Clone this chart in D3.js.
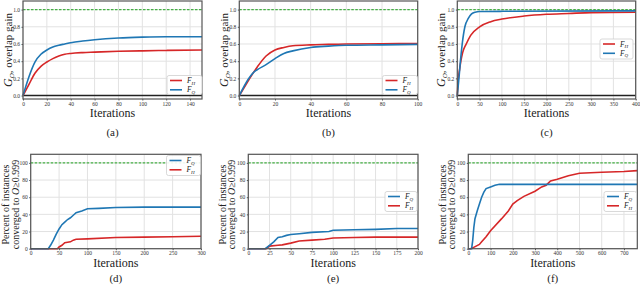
<!DOCTYPE html>
<html><head><meta charset="utf-8">
<script src="https://cdn.jsdelivr.net/npm/d3@7"></script>
<style>
html,body{margin:0;padding:0;background:#fff;}
svg{display:block;}
svg text{font-family:'Liberation Serif','DejaVu Serif',serif;}
</style></head>
<body><svg id="c" width="640" height="285"></svg>
<script>
// ---------- data ----------
const aX  = [0,5,10,15,20,25,30,35,40,50,60,80,100,120,150];
const aFH = [0,0.13,0.26,0.34,0.39,0.43,0.46,0.48,0.49,0.50,0.505,0.515,0.52,0.525,0.53];
const aFQ = [0,0.22,0.39,0.48,0.53,0.565,0.585,0.60,0.615,0.635,0.65,0.67,0.68,0.685,0.685];

const bX  = [0,5,8,10,15,20,25,30,40,50,60,80,100];
const bFH = [0,0.17,0.27,0.33,0.46,0.53,0.56,0.58,0.59,0.595,0.60,0.603,0.605];
const bFQ = [0,0.19,0.27,0.30,0.36,0.43,0.49,0.52,0.56,0.575,0.585,0.59,0.595];

const cXH = [0,2,5,8,12,20,30,50,75,100,150,200,250,300,400];
const cFH = [0,0.18,0.30,0.40,0.50,0.60,0.70,0.80,0.86,0.89,0.925,0.945,0.955,0.965,0.97];
const cXQ = [0,4,7,11,17,25,32,40,50,100,400];
const cFQ = [0,0.22,0.40,0.60,0.80,0.90,0.95,0.97,0.977,0.98,0.985];

const dXQ = [0,31,35,40,45,50,55,60,65,70,75,80,90,100,120,150,200,300];
const dFQ = [0,0,4,10,17,23,28,31,34,36,39,42,44,46.5,47,48,48.5,48.5];
const dXH = [0,47,50,55,60,65,70,75,80,100,150,200,250,300];
const dFH = [0,0,2,4,7,7.5,8,10,11,11.5,13,13.5,14,14.5];

const eXQ = [0,20,25,30,35,40,45,50,60,75,95,100,125,150,175,200];
const eFQ = [0,0,4,8,13,14,15.5,16.5,17.5,19,20,21.5,22,22.5,23.5,23.5];
const eXH = [0,21,25,35,40,50,60,75,90,100,125,150,200];
const eFH = [0,0,3,4,4.5,6.5,9,10,11,12.5,13,13.5,13.5];

const fXQ = [0,15,20,25,30,40,50,60,70,80,100,120,140,760];
const fFQ = [0,0,10,25,35,44,52,60,66,70,72,74,75,75];
const fXH = [0,10,20,50,60,80,100,150,180,200,220,250,300,330,350,370,400,450,500,600,700,760];
const fFH = [0,0,1,5,8,14,21,35,44,52,56,61,67,72,74,79,81,85,88,89,90,91];

const xTicksA = [0,20,40,60,80,100,120,140];
const xTicksB = [0,20,40,60,80,100];
const xTicksC = [0,50,100,150,200,250,300,350,400];
const xTicksD = [0,50,100,150,200,250,300];
const xTicksE = [0,25,50,75,100,125,150,175,200];
const xTicksF = [0,100,200,300,400,500,600,700];
const yTicksTop = [0,0.2,0.4,0.6,0.8,1.0];
const yTicksBot = [0,20,40,60,80,100];
const captions = ["(a)","(b)","(c)","(d)","(e)","(f)"];

const RED = "#d62728", BLUE = "#1f77b4", GREEN = "#44b044";

const svg = d3.select("#c");

function zip(xs, ys){ return xs.map((x,i)=>[x, ys[i]]); }

function panel(o){
  const g = svg.append("g");
  const x = d3.scaleLinear().domain(o.xd).range([o.l, o.r]);
  const y = d3.scaleLinear().domain(o.yd).range([o.b, o.t]);
  // grid
  g.append("g").selectAll("line").data(o.xt).join("line")
    .attr("x1", d=>x(d)).attr("x2", d=>x(d)).attr("y1", o.t).attr("y2", o.b)
    .attr("stroke", "#e2e2e2").attr("stroke-width", 1);
  g.append("g").selectAll("line").data(o.yt).join("line")
    .attr("y1", d=>y(d)).attr("y2", d=>y(d)).attr("x1", o.l).attr("x2", o.r)
    .attr("stroke", "#e2e2e2").attr("stroke-width", 1);
  // axes ticks via d3 axis
  const xa = d3.axisBottom(x).tickValues(o.xt).tickSize(1.5).tickPadding(1.2)
    .tickFormat(o.xf || d3.format("d"));
  const ya = d3.axisLeft(y).tickValues(o.yt).tickSize(1.5).tickPadding(1.5)
    .tickFormat(o.yf || d3.format("d"));
  const gx = g.append("g").attr("transform", `translate(0,${o.b})`).call(xa);
  const gy = g.append("g").attr("transform", `translate(${o.l},0)`).call(ya);
  [gx, gy].forEach(a => {
    a.attr("font-family", null);
    a.select(".domain").remove();
    a.selectAll("text").attr("font-size", 5.5).attr("fill", "#333");
    a.selectAll("line").attr("stroke", "#555");
  });
  // reference lines
  if (o.zero) g.append("line").attr("x1", o.l).attr("x2", o.r)
      .attr("y1", y(0)).attr("y2", y(0)).attr("stroke", "#222").attr("stroke-width", 1.6);
  g.append("line").attr("x1", o.l).attr("x2", o.r)
    .attr("y1", y(o.ref)).attr("y2", y(o.ref))
    .attr("stroke", GREEN).attr("stroke-width", 1.3).attr("stroke-dasharray", "2.5,1.5");
  // curves
  const line = d3.line().x(d=>x(d[0])).y(d=>y(d[1])).curve(o.curve);
  o.series.forEach(s => {
    g.append("path").datum(s.pts).attr("d", line).attr("fill", "none")
      .attr("stroke", s.c).attr("stroke-width", 1.6);
  });
  // frame
  g.append("rect").attr("x", o.l).attr("y", o.t).attr("width", o.r-o.l).attr("height", o.b-o.t)
    .attr("fill", "none").attr("stroke", "#555").attr("stroke-width", 1.2);
  // legend
  const L = o.leg;
  g.append("rect").attr("x", L.x).attr("y", L.y).attr("width", L.w).attr("height", L.h)
    .attr("rx", 2).attr("fill", "#fff").attr("fill-opacity", 0.9)
    .attr("stroke", "#cfcfcf").attr("stroke-width", 0.8);
  L.items.forEach((it, i) => {
    const yy = L.y + 5 + i*9.3;
    g.append("line").attr("x1", L.x+3).attr("x2", L.x+15).attr("y1", yy).attr("y2", yy)
      .attr("stroke", it.c).attr("stroke-width", 1.6);
    const t = g.append("text").attr("x", L.x+20).attr("y", yy+2.5).attr("font-size", 7.5)
      .attr("fill", "#222");
    t.append("tspan").attr("font-style", "italic").text("F");
    t.append("tspan").attr("font-style", "italic").attr("font-size", 5).attr("dy", 1.5).text(it.sub);
  });
  // x label
  g.append("text").attr("x", (o.l+o.r)/2).attr("y", o.b + o.xlOff).attr("text-anchor", "middle")
    .attr("font-size", 12).attr("fill", "#222").text("Iterations");
  // caption
  g.append("text").attr("x", (o.l+o.r)/2).attr("y", o.capY).attr("text-anchor", "middle")
    .attr("font-size", 11).attr("fill", "#222").text(o.cap);
  // y label
  if (o.top) {
    const t = g.append("text").attr("transform", `translate(${o.ylx},${(o.t+o.b)/2}) rotate(-90)`)
      .attr("text-anchor", "middle").attr("font-size", 11).attr("fill", "#222");
    t.append("tspan").attr("font-style", "italic").attr("font-size", 12).text("G");
    t.append("tspan").attr("font-style", "italic").attr("font-size", 7).attr("dy", 2).text("O");
    t.append("tspan").attr("dy", -2).text(", overlap gain");
  } else {
    const t1 = g.append("text").attr("transform", `translate(${o.ylx},${(o.t+o.b)/2+3}) rotate(-90)`)
      .attr("text-anchor", "middle").attr("font-size", 10).attr("fill", "#222");
    t1.text("Percent of instances");
    const t2 = g.append("text").attr("transform", `translate(${o.ylx+9.5},${(o.t+o.b)/2+3}) rotate(-90)`)
      .attr("text-anchor", "middle").attr("font-size", 10).attr("fill", "#222");
    t2.append("tspan").text("converged to ");
    t2.append("tspan").attr("font-style", "italic").text("O");
    t2.append("tspan").text("≥0.999");
  }
}

const topY = [-0.04, 1.1], botY = [0, 110];
const f1 = d3.format(".1f");
const smooth = d3.curveMonotoneX, lin = d3.curveLinear;

panel({l:23, r:202, t:1, b:99, xd:[0,150], yd:topY, xt:xTicksA, yt:yTicksTop, yf:f1,
  zero:true, ref:1, curve:smooth, top:true, ylx:12, xlOff:18, capY:136, cap:captions[0],
  series:[{c:RED, pts:zip(aX,aFH)},{c:BLUE, pts:zip(aX,aFQ)}],
  leg:{x:167, y:75.5, w:35, h:19, items:[{c:RED, sub:"H"},{c:BLUE, sub:"Q"}]}});
panel({l:239.3, r:417.7, t:1, b:99, xd:[0,100], yd:topY, xt:xTicksB, yt:yTicksTop, yf:f1,
  zero:true, ref:1, curve:smooth, top:true, ylx:227.5, xlOff:18, capY:136, cap:captions[1],
  series:[{c:RED, pts:zip(bX,bFH)},{c:BLUE, pts:zip(bX,bFQ)}],
  leg:{x:382.5, y:75.5, w:35, h:19, items:[{c:RED, sub:"H"},{c:BLUE, sub:"Q"}]}});
panel({l:457.3, r:635.7, t:1, b:99, xd:[0,400], yd:topY, xt:xTicksC, yt:yTicksTop, yf:f1,
  zero:true, ref:1, curve:smooth, top:true, ylx:444.5, xlOff:18, capY:136, cap:captions[2],
  series:[{c:RED, pts:zip(cXH,cFH)},{c:BLUE, pts:zip(cXQ,cFQ)}],
  leg:{x:600, y:39, w:33, h:20, items:[{c:RED, sub:"H"},{c:BLUE, sub:"Q"}]}});
panel({l:30.7, r:201, t:154.3, b:248.7, xd:[0,300], yd:botY, xt:xTicksD, yt:yTicksBot,
  zero:false, ref:100, curve:lin, top:false, ylx:9, xlOff:17.8, capY:282, cap:captions[3],
  series:[{c:RED, pts:zip(dXH,dFH)},{c:BLUE, pts:zip(dXQ,dFQ)}],
  leg:{x:166.5, y:155.5, w:34, h:20, items:[{c:BLUE, sub:"Q"},{c:RED, sub:"H"}]}});
panel({l:248.3, r:418, t:154.3, b:248.7, xd:[0,200], yd:botY, xt:xTicksE, yt:yTicksBot,
  zero:false, ref:100, curve:lin, top:false, ylx:225.5, xlOff:17.8, capY:282, cap:captions[4],
  series:[{c:RED, pts:zip(eXH,eFH)},{c:BLUE, pts:zip(eXQ,eFQ)}],
  leg:{x:385, y:191.5, w:32, h:20, items:[{c:BLUE, sub:"Q"},{c:RED, sub:"H"}]}});
panel({l:468.3, r:637.3, t:154.3, b:248.7, xd:[0,760], yd:botY, xt:xTicksF, yt:yTicksBot,
  zero:false, ref:100, curve:lin, top:false, ylx:445.5, xlOff:17.8, capY:282, cap:captions[5],
  series:[{c:RED, pts:zip(fXH,fFH)},{c:BLUE, pts:zip(fXQ,fFQ)}],
  leg:{x:604, y:191.5, w:32.5, h:20, items:[{c:BLUE, sub:"Q"},{c:RED, sub:"H"}]}});
</script></body></html>
